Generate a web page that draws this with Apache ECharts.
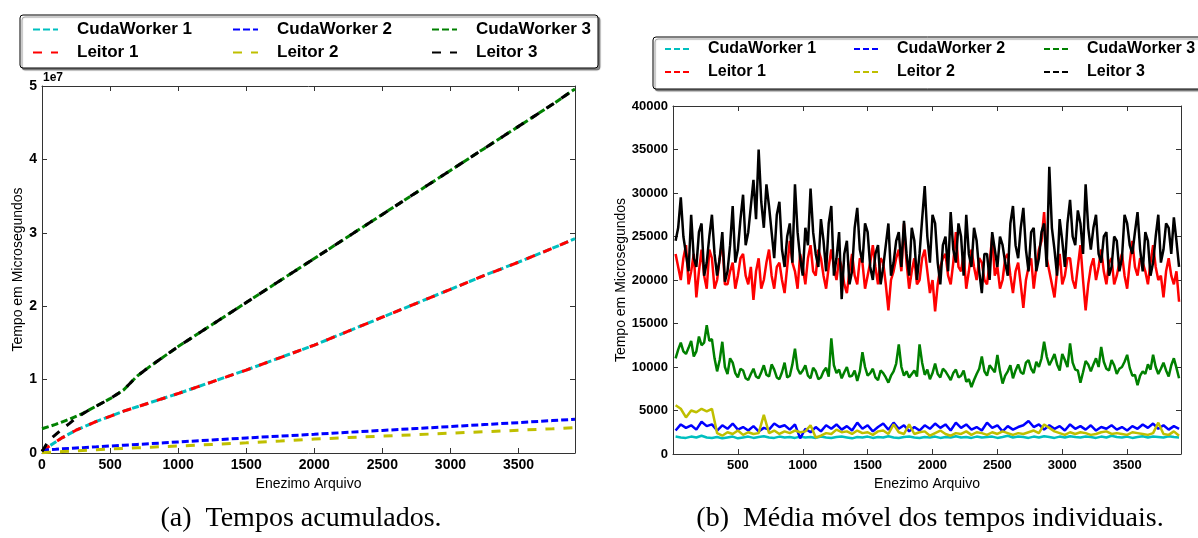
<!DOCTYPE html>
<html>
<head>
<meta charset="utf-8">
<script src="https://cdn.jsdelivr.net/npm/echarts@6/dist/echarts.min.js"></script>
<style>
html,body{margin:0;padding:0;background:#fff;}
#chart{width:1198px;height:538px;}
</style>
</head>
<body>
<div id="chart"></div>
<script>
// ---------- Data ----------
const seriesNames = ['CudaWorker 1', 'Leitor 1', 'CudaWorker 2', 'Leitor 2', 'CudaWorker 3', 'Leitor 3'];
const xTicks = [0, 500, 1000, 1500, 2000, 2500, 3000, 3500];
const yTicksCum = [0, 1, 2, 3, 4, 5];           // x 1e7
const yTicksMov = [0, 5000, 10000, 15000, 20000, 25000, 30000, 35000, 40000];

// (a) cumulative times
const cumX = [0, 50, 100, 150, 200, 250, 300, 350, 400, 500, 600, 700, 800, 900, 1000, 1250, 1500, 1750, 2000, 2250, 2500, 2750, 3000, 3250, 3500, 3750, 3915];
const cumCuda1 = [0.3e6, 0.9e6, 1.5e6, 2.1e6, 2.6e6, 3.1e6, 3.5e6, 3.9e6, 4.3e6, 5.0e6, 5.7e6, 6.3e6, 6.9e6, 7.5e6, 8.1e6, 9.7e6, 11.3e6, 13.0e6, 14.7e6, 16.6e6, 18.5e6, 20.4e6, 22.3e6, 24.2e6, 26.0e6, 27.9e6, 29.2e6];
const cumLeitor1 = [0.3e6, 0.9e6, 1.5e6, 2.1e6, 2.6e6, 3.1e6, 3.5e6, 3.9e6, 4.3e6, 5.0e6, 5.7e6, 6.3e6, 6.9e6, 7.5e6, 8.1e6, 9.7e6, 11.3e6, 13.0e6, 14.7e6, 16.6e6, 18.5e6, 20.4e6, 22.3e6, 24.2e6, 26.0e6, 27.9e6, 29.2e6];
const cumCuda2 = [0.4e6, 0.46e6, 0.51e6, 0.57e6, 0.62e6, 0.68e6, 0.73e6, 0.79e6, 0.84e6, 0.95e6, 1.06e6, 1.17e6, 1.28e6, 1.39e6, 1.5e6, 1.78e6, 2.05e6, 2.3e6, 2.55e6, 2.82e6, 3.08e6, 3.34e6, 3.6e6, 3.87e6, 4.14e6, 4.42e6, 4.6e6];
const cumLeitor2 = [0.05e6, 0.1e6, 0.15e6, 0.2e6, 0.25e6, 0.3e6, 0.35e6, 0.4e6, 0.45e6, 0.55e6, 0.63e6, 0.71e6, 0.79e6, 0.87e6, 0.95e6, 1.17e6, 1.38e6, 1.62e6, 1.9e6, 2.1e6, 2.3e6, 2.5e6, 2.7e6, 2.9e6, 3.1e6, 3.3e6, 3.45e6];
const cumCuda3 = [3.3e6, 3.6e6, 3.9e6, 4.25e6, 4.6e6, 5.0e6, 5.4e6, 5.9e6, 6.4e6, 7.4e6, 8.6e6, 10.5e6, 11.9e6, 13.2e6, 14.5e6, 17.5e6, 20.5e6, 23.5e6, 26.5e6, 29.5e6, 32.5e6, 35.5e6, 38.5e6, 41.5e6, 44.5e6, 47.5e6, 49.6e6];
const cumLeitor3 = [0.2e6, 1.7e6, 2.5e6, 3.3e6, 4.0e6, 4.75e6, 5.35e6, 5.9e6, 6.4e6, 7.4e6, 8.6e6, 10.5e6, 11.9e6, 13.2e6, 14.5e6, 17.5e6, 20.5e6, 23.5e6, 26.5e6, 29.5e6, 32.5e6, 35.5e6, 38.5e6, 41.5e6, 44.5e6, 47.5e6, 49.6e6];

// (b) moving average of individual times
// coarse grid (every 40 files) for the low series
const movX = [20,60,100,140,180,220,260,300,340,380,
  420,460,500,540,580,620,660,700,740,780,
  820,860,900,940,980,1020,1060,1100,1140,1180,
  1220,1260,1300,1340,1380,1420,1460,1500,1540,1580,
  1620,1660,1700,1740,1780,1820,1860,1900,1940,1980,
  2020,2060,2100,2140,2180,2220,2260,2300,2340,2380,
  2420,2460,2500,2540,2580,2620,2660,2700,2740,2780,
  2820,2860,2900,2940,2980,3020,3060,3100,3140,3180,
  3220,3260,3300,3340,3380,3420,3460,3500,3540,3580,
  3620,3660,3700,3740,3780,3820,3860,3900];
// fine grid (every 20 files) for the noisier series
const movXFine = [20,40,60,80,100,120,140,160,180,200,220,240,260,280,300,320,340,360,380,400,
  420,440,460,480,500,520,540,560,580,600,620,640,660,680,700,720,740,760,780,800,
  820,840,860,880,900,920,940,960,980,1000,1020,1040,1060,1080,1100,1120,1140,1160,1180,1200,
  1220,1240,1260,1280,1300,1320,1340,1360,1380,1400,1420,1440,1460,1480,1500,1520,1540,1560,1580,1600,
  1620,1640,1660,1680,1700,1720,1740,1760,1780,1800,1820,1840,1860,1880,1900,1920,1940,1960,1980,2000,
  2020,2040,2060,2080,2100,2120,2140,2160,2180,2200,2220,2240,2260,2280,2300,2320,2340,2360,2380,2400,
  2420,2440,2460,2480,2500,2520,2540,2560,2580,2600,2620,2640,2660,2680,2700,2720,2740,2760,2780,2800,
  2820,2840,2860,2880,2900,2920,2940,2960,2980,3000,3020,3040,3060,3080,3100,3120,3140,3160,3180,3200,
  3220,3240,3260,3280,3300,3320,3340,3360,3380,3400,3420,3440,3460,3480,3500,3520,3540,3560,3580,3600,
  3620,3640,3660,3680,3700,3720,3740,3760,3780,3800,3820,3840,3860,3880,3900];

const movCuda1 = [2000,1900,1850,2000,1900,2100,1900,1850,1950,1800,
  1900,2000,1800,1900,2000,1850,1950,2050,1900,1850,
  2000,1900,1950,1850,2000,1900,1950,1850,2000,1900,
  1850,1950,2000,1900,1800,1950,1900,2000,1850,1950,
  1900,2050,1900,1850,1950,2000,1900,1850,1950,1900,
  2000,1850,1950,1900,2050,1900,1950,1850,2000,1900,
  1950,2000,1850,1950,2100,1900,2000,1950,1850,2000,
  1900,2050,1950,1850,2000,1900,2050,1950,1900,2000,
  1950,1850,2000,1900,2100,1950,1900,2000,1850,1950,
  2050,1900,2000,1950,1900,2050,1950,1900];
const movLeitor1 = [23000,21500,20000,22500,24000,19500,21000,23000,18000,21000,23500,20500,19000,23500,22500,19000,20000,22500,24500,19500,
  19500,21000,22000,19000,20500,22500,23000,20500,19500,21500,17700,21000,22500,19000,20000,22000,23500,20500,19000,21500,
  22000,20000,18500,21500,24500,22000,21000,19000,23000,21500,19500,22500,24000,21000,20500,23500,22500,20500,19000,21500,
  23500,21500,20000,22500,21500,19500,18500,21000,23000,20500,19500,22500,22000,19000,20500,22000,24000,21500,19500,22500,
  22000,19500,16500,20000,21000,22500,23500,21000,26500,22000,19000,21000,22500,19500,20000,22500,23500,21000,18500,20000,
  16400,19500,21500,22500,23000,20500,19500,22000,25500,21500,21000,23000,19000,21000,23500,21500,20000,22500,22000,20000,
  19500,22000,25000,20500,21500,19000,20000,22500,23000,20500,18500,21000,22000,19500,16800,20000,21500,22500,19000,21500,
  23500,24500,27800,22500,21000,19500,18000,21000,23000,19500,20500,22500,22500,20000,19000,21500,24000,20000,16500,19500,
  21500,22500,20000,21500,23500,21000,19500,22000,22500,19500,20500,22000,23000,20500,19000,22000,24500,21500,20500,22500,
  22000,21000,19500,22000,24000,21500,20000,20500,18000,21000,22500,20500,19500,21000,17500];
const movCuda2 = [2700,3400,3000,3300,2800,3700,3200,3400,2700,3300,
  2900,3500,2800,3100,2700,3200,2600,3000,2800,3500,
  3100,3300,2800,3400,1800,2900,2500,3100,2600,3300,
  2900,3400,2800,3200,2700,3600,2900,3300,2600,3100,
  3500,2800,3600,2900,3300,2600,3100,2700,3300,2900,
  3500,3000,3400,2700,3600,3000,3400,2800,3100,2700,
  3600,3000,3300,2600,3200,2800,3100,3300,3800,3100,
  3400,2800,3300,2900,3200,2700,3400,2900,3200,2800,
  3300,2700,3100,2900,3300,2800,3100,2700,3200,2900,
  3400,3000,3500,2900,3300,2800,3200,2900];
const movLeitor2 = [5600,5200,4200,5000,4800,5200,4900,5200,2400,2100,
  2500,2300,2700,2200,2500,2300,2400,4500,2400,2700,
  2300,2600,2400,2700,2500,2600,3300,1900,2100,2400,
  2300,2800,2500,2600,2300,2700,2400,2500,2200,2600,
  2700,2300,3400,2500,2300,3400,2300,2500,2600,2100,
  2400,2700,2300,2100,2400,2300,2600,2200,2500,2400,
  2200,2500,2300,2600,2400,2200,2400,2300,2500,2700,
  2400,3400,3000,2600,2400,2200,2500,2300,2500,2400,
  2200,2300,2500,2600,2300,2400,2300,2200,2500,2400,
  2300,2200,2400,3600,2300,2200,2600,2100];
const movCuda3 = [11000,12000,12800,11800,11500,12200,13000,11200,11800,13500,12500,12800,14800,13000,13200,11000,9500,10800,12900,10000,
  9200,11000,10500,9300,8800,9800,9600,8700,8500,9200,9800,8900,8700,9400,10200,9100,8900,10300,9700,8800,
  8600,9400,10500,8800,9000,10300,12100,9800,9200,9600,10200,9000,8700,9900,9500,8600,8800,9500,9900,8900,
  13300,10200,9300,9700,8700,9400,10000,8900,9000,9600,8400,9500,11700,10000,9000,9300,9800,8800,8500,9600,
  9300,8800,8200,9000,9500,10400,12600,10000,9000,9500,8800,9200,9600,8900,12600,10500,9100,9700,8600,9300,
  10400,9200,8800,9800,9500,9000,8500,9300,9700,8800,9000,9600,8300,8600,7700,8500,9200,9800,11200,9500,
  9000,10200,9800,9400,11400,9500,8100,9000,9500,10200,8700,9600,10300,9400,9200,10500,10800,9800,9300,10600,
  10000,11000,12900,11200,10200,10800,11500,10300,9600,11500,10800,10000,12700,10500,9700,9600,8200,9400,10700,10300,
  9500,10300,11000,10000,12300,10600,9800,9600,10800,10200,9200,9800,10000,10600,11400,9900,9000,9100,7900,9000,
  9500,9200,10300,9700,11400,10000,9200,9800,10500,9600,8900,10200,11000,9900,8700];
const movLeitor3 = [24500,26000,29500,25000,23000,21000,27500,22500,21500,25500,26500,20500,22000,25000,27500,23000,20500,22500,25500,19800,
  21000,24000,28500,22000,23500,27000,29800,24000,25500,28500,31500,27000,35000,29000,26000,31000,28500,25500,22500,27500,
  29000,23500,21500,25000,26500,22000,31000,25500,22500,20500,26000,24000,30500,25500,23000,21500,27000,24500,21000,26500,
  28500,20500,22500,25500,17800,23000,24500,19500,21000,26000,28300,23500,22000,26500,25500,21500,20000,23000,24000,19500,
  21500,24000,26500,20500,22000,24500,25500,21500,26800,23000,20500,26000,24500,20000,23000,27000,30800,25000,22000,27500,
  26500,22000,19500,24000,25000,21000,27800,23500,22000,26500,25000,20500,27500,23000,21500,26000,24500,21000,18500,23000,
  23000,20000,25500,23500,21500,25000,24000,22000,20500,26500,28500,24000,22500,26000,28300,23500,21000,25500,26000,21000,
  22500,25500,26500,21500,33000,26000,23500,20500,27000,24500,21500,26500,29200,25000,24000,28000,26500,23000,31000,26000,
  23500,26000,27500,23000,22000,25000,25500,20500,21500,25000,24500,21000,22500,27500,26500,24000,23000,25500,27800,23500,
  21000,25500,24500,20500,22000,25000,27500,22000,23500,26500,26000,23000,27200,24500,21500];

// ---------- Helpers ----------
function pairs(xs, ys) { return xs.map((x, i) => [x, ys[i]]); }
const colors = ['#00BFBF', '#FF0000', '#0000FF', '#BFBF00', '#008000', '#000000'];
const cumData = [cumCuda1, cumLeitor1, cumCuda2, cumLeitor2, cumCuda3, cumLeitor3];
const movData = [movCuda1, movLeitor1, movCuda2, movLeitor2, movCuda3, movLeitor3];
const movXs = [movX, movXFine, movX, movX, movXFine, movXFine];
const cumDash = [[7, 3], [9, 9], [7, 3], [9, 9], [7, 3], [9, 9]];

const SANS = '"Liberation Sans", Arial, sans-serif';
const SERIF = '"Liberation Serif", "Times New Roman", serif';

function xAx(grid, pos, hideZero, showLabels, name) {
  return {
    type: 'value', gridIndex: grid, position: pos, min: 0, max: 3915, interval: 500,
    axisLine: { show: true, onZero: false, lineStyle: { color: '#333', width: 1 } },
    axisTick: { show: true, inside: true, length: 5, lineStyle: { color: '#333' } },
    splitLine: { show: false },
    axisLabel: {
      show: showLabels, margin: 5, color: '#000', fontFamily: SANS, fontWeight: 'bold', fontSize: grid === 0 ? 14 : 13,
      formatter: v => (xTicks.indexOf(v) >= 0 && !(hideZero && v === 0)) ? String(v) : ''
    },
    name: name || '', nameLocation: 'middle', nameGap: 20,
    nameTextStyle: { color: '#000', fontFamily: SANS, fontSize: 14 }
  };
}
function yAx(grid, pos, max, interval, showLabels, fmt, name, gap) {
  return {
    type: 'value', gridIndex: grid, position: pos, min: 0, max: max, interval: interval,
    axisLine: { show: true, onZero: false, lineStyle: { color: '#333', width: 1 } },
    axisTick: { show: true, inside: true, length: 5, lineStyle: { color: '#333' } },
    splitLine: { show: false },
    axisLabel: { show: showLabels, margin: 5, color: '#000', fontFamily: SANS, fontWeight: 'bold', fontSize: grid === 0 ? 14 : 13, formatter: fmt },
    name: name || '', nameLocation: 'middle', nameGap: gap || 0,
    nameTextStyle: { color: '#000', fontFamily: SANS, fontSize: 14 }
  };
}

const series = [];
seriesNames.forEach((n, i) => {
  series.push({
    name: n, type: 'line', xAxisIndex: 0, yAxisIndex: 0, symbol: 'none', animation: false,
    data: pairs(cumX, cumData[i]),
    lineStyle: { color: colors[i], width: 3, type: cumDash[i] },
    itemStyle: { color: colors[i] }
  });
});
seriesNames.forEach((n, i) => {
  series.push({
    name: n, type: 'line', xAxisIndex: 2, yAxisIndex: 2, symbol: 'none', animation: false,
    data: pairs(movXs[i], movData[i]),
    lineStyle: { color: colors[i], width: 2.5 },
    itemStyle: { color: colors[i] }
  });
});

function legendCol(left, top, names, fs, pad, gap, override) {
  const l = {
    orient: 'vertical', left: left, top: top, data: names, selectedMode: false,
    itemWidth: 25, itemHeight: 12, itemGap: gap, padding: 0,
    itemStyle: { opacity: 0, borderWidth: 0 },
    textStyle: { fontSize: fs, lineHeight: fs, fontWeight: 'bold', fontFamily: SANS, color: '#000', padding: [0, 0, 0, pad] }
  };
  if (override) l.lineStyle = override;
  return l;
}

const option = {
  backgroundColor: '#fff',
  animation: false,
  grid: [
    { left: 42, top: 86, width: 533, height: 367, show: false },
    { left: 673, top: 106, width: 508, height: 348, show: false }
  ],
  xAxis: [
    xAx(0, 'bottom', false, true, 'Enezimo Arquivo'),
    xAx(0, 'top', false, false),
    xAx(1, 'bottom', true, true, 'Enezimo Arquivo'),
    xAx(1, 'top', true, false)
  ],
  yAxis: [
    yAx(0, 'left', 5e7, 1e7, true, v => String(v / 1e7), 'Tempo em Microsegundos', 16),
    yAx(0, 'right', 5e7, 1e7, false),
    yAx(1, 'left', 40000, 5000, true, v => String(v), 'Tempo em Microsegundos', 44),
    yAx(1, 'right', 40000, 5000, false)
  ],
  legend: [
    legendCol(32, 21, ['CudaWorker 1', 'Leitor 1'], 17, 14, 6),
    legendCol(232, 21, ['CudaWorker 2', 'Leitor 2'], 17, 14, 6),
    legendCol(431, 21, ['CudaWorker 3', 'Leitor 3'], 17, 14, 6),
    legendCol(664, 41, ['CudaWorker 1', 'Leitor 1'], 16, 13, 7, { type: [6, 3] }),
    legendCol(853, 41, ['CudaWorker 2', 'Leitor 2'], 16, 13, 7, { type: [6, 3] }),
    legendCol(1043, 41, ['CudaWorker 3', 'Leitor 3'], 16, 13, 7, { type: [6, 3] })
  ],
  graphic: [
    { type: 'rect', z: 1, shape: { x: 20, y: 15, width: 578, height: 53, r: 3 },
      style: { fill: '#fff', stroke: '#000', lineWidth: 1, shadowColor: 'rgba(0,0,0,0.45)', shadowOffsetX: 2, shadowOffsetY: 2, shadowBlur: 1 } },
    { type: 'rect', z: 1, shape: { x: 653, y: 37, width: 580, height: 52, r: 3 },
      style: { fill: '#fff', stroke: '#000', lineWidth: 1, shadowColor: 'rgba(0,0,0,0.45)', shadowOffsetX: 2, shadowOffsetY: 2, shadowBlur: 1 } },
    { type: 'text', z: 5, x: 43, y: 78, style: { text: '1e7', font: 'bold 12px ' + SANS, fill: '#000', textAlign: 'left', textVerticalAlign: 'middle' } },
    { type: 'text', z: 5, x: 301, y: 519, style: { text: '(a)  Tempos acumulados.', font: '28px ' + SERIF, fill: '#000', textAlign: 'center', textVerticalAlign: 'middle' } },
    { type: 'text', z: 5, x: 930, y: 519, style: { text: '(b)  Média móvel dos tempos individuais.', font: '28px ' + SERIF, fill: '#000', textAlign: 'center', textVerticalAlign: 'middle' } }
  ],
  series: series
};

const chart = echarts.init(document.getElementById('chart'), null, { renderer: 'canvas' });
chart.setOption(option);
</script>
</body>
</html>
